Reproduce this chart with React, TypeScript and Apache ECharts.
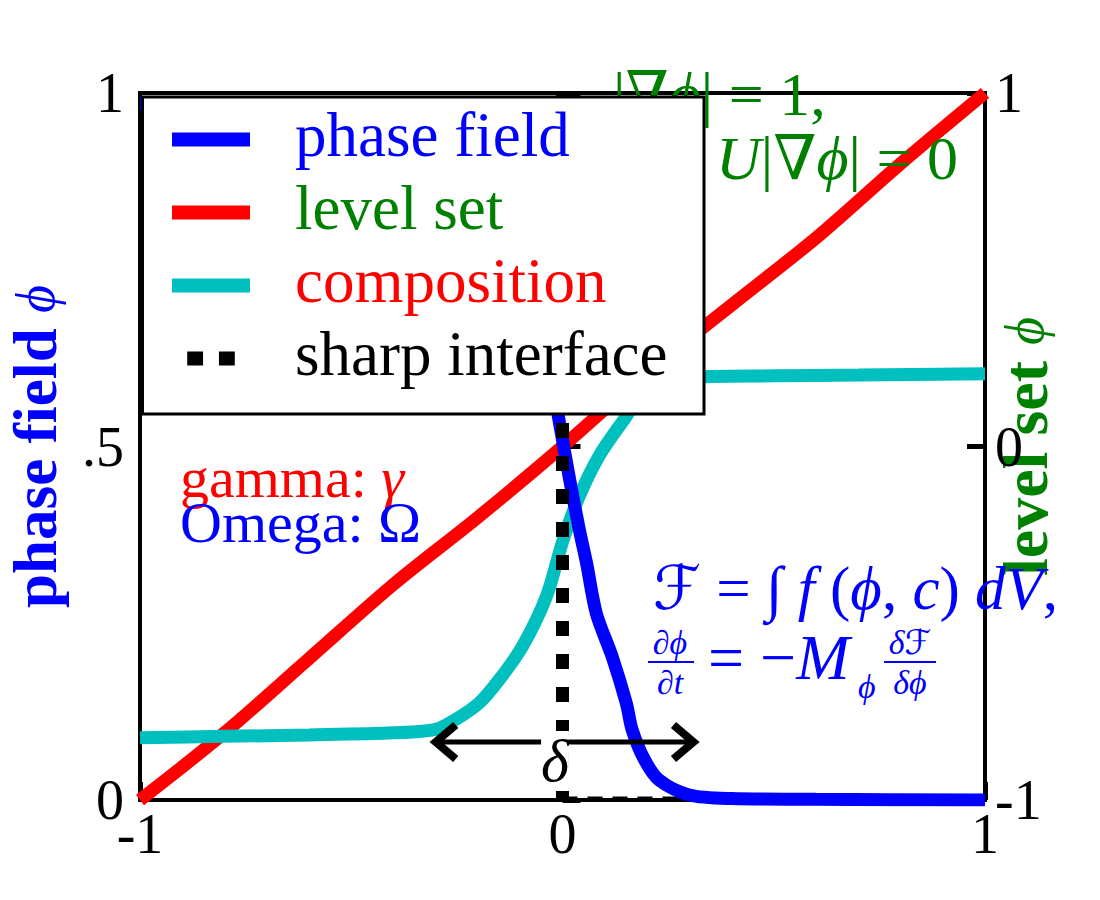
import React, { useEffect, useRef } from "react";
import * as echarts from "echarts";

// ---- data ----
const xTickValues = [-1, 0, 1];
const leftTickValues = [0, 0.5, 1];
const leftTickLabels = ["0", ".5", "1"];
const rightTickValues = [-1, 0, 1];

const phaseX = [-1, -0.5, -0.25, -0.15, -0.08, -0.04, -0.007, 0.017, 0.04, 0.057, 0.08, 0.118, 0.151, 0.165, 0.194, 0.229, 0.3, 0.4, 0.6, 1];
const phaseField = [0.985, 0.985, 0.98, 0.94, 0.8, 0.65, 0.533, 0.453, 0.382, 0.335, 0.264, 0.202, 0.137, 0.099, 0.057, 0.028, 0.007, 0.002, 0.001, 0.0];

const levelX = [-1, -0.8, -0.6, -0.4, -0.2, 0, 0.2, 0.4, 0.6, 0.8, 1];
const levelSet = [-1, -0.81, -0.6, -0.39, -0.2, 0, 0.21, 0.4, 0.59, 0.8, 1];

const compX = [-1, -0.8, -0.6, -0.4, -0.3, -0.25, -0.196, -0.15, -0.095, -0.038, 0, 0.04, 0.087, 0.142, 0.2, 0.3, 0.5, 0.7, 1];
const composition = [0.088, 0.09, 0.092, 0.095, 0.1, 0.115, 0.138, 0.17, 0.217, 0.288, 0.365, 0.43, 0.487, 0.535, 0.58, 0.598, 0.6, 0.601, 0.603];

const sharpX = [0, 0];
const sharpY = [1, 0];
const baselineX = [0, 1];
const baselineY = [0.003, 0.003];

const deltaStart = -0.3;
const deltaEnd = 0.31;
const deltaLevel = 0.082;

const legendNames = ["phase field", "level set", "composition", "sharp interface"];
const legendTextColors = ["#0000ff", "#008000", "#ff0000", "#000000"];
const legendIcons = ["rect", "rect", "rect", "path://M0,0H17V15H0Z M34,0H51V15H34Z"];

const SERIF = '"Liberation Serif", "DejaVu Serif", "DejaVu Sans", serif';

const zip = (xs: number[], ys: number[]) => xs.map((x, i) => [x, ys[i]]);

export default function App() {
  const ref = useRef<HTMLDivElement>(null);
  useEffect(() => {
    const chart = echarts.init(ref.current!, null, { renderer: "svg" });
    const rich: any = {};
    legendNames.forEach((n, i) => {
      rich["k" + i] = {
        color: legendTextColors[i],
        fontSize: 63,
        lineHeight: 59,
        fontFamily: SERIF,
        padding: [0, 0, 10, 40],
      };
    });
    const tickLabel = { fontSize: 56, fontFamily: SERIF, color: "#000" };
    const option: any = {
      animation: false,
      backgroundColor: "#fff",
      grid: {
        left: 140,
        right: 115,
        top: 93,
        bottom: 100,
        show: true,
        borderColor: "#000",
        borderWidth: 4,
        backgroundColor: "transparent",
        outerBoundsMode: "none",
        containLabel: false,
      },
      legend: {
        data: legendNames.map((n, i) => ({ name: n, icon: legendIcons[i] })),
        orient: "vertical",
        left: 172,
        top: 103,
        padding: 0,
        itemGap: 0,
        itemWidth: 78,
        itemHeight: 14,
        symbolKeepAspect: true,
        selectedMode: false,
        z: 20,
        textStyle: { fontSize: 63, lineHeight: 59, fontFamily: SERIF, rich },
        formatter: (name: string) => `{k${legendNames.indexOf(name)}|${name}}`,
      },
      xAxis: {
        type: "value",
        min: -1,
        max: 1,
        interval: 1,
        axisLine: { show: false },
        splitLine: { show: false },
        axisTick: { inside: true, length: 18, lineStyle: { width: 5, color: "#000" } },
        axisLabel: { ...tickLabel, margin: 6, formatter: (v: number) => (xTickValues.includes(v) ? String(v) : "") },
      },
      yAxis: [
        {
          type: "value",
          min: 0,
          max: 1,
          interval: 0.5,
          position: "left",
          axisLine: { show: false },
          splitLine: { show: false },
          axisTick: { inside: true, length: 18, lineStyle: { width: 5, color: "#000" } },
          axisLabel: { ...tickLabel, margin: 16, formatter: (v: number) => leftTickLabels[leftTickValues.indexOf(v)] ?? "" },
          name: "{b|phase field }{i|ϕ}",
          nameLocation: "middle",
          nameRotate: 90,
          nameGap: 74,
          nameMoveOverlap: false,
          nameTextStyle: {
            rich: {
              b: { fontSize: 61, fontWeight: "bold", color: "#0000ff", fontFamily: SERIF },
              i: { fontSize: 54, fontStyle: "italic", color: "#0000ff", fontFamily: SERIF },
            },
          },
        },
        {
          type: "value",
          min: -1,
          max: 1,
          interval: 1,
          position: "right",
          axisLine: { show: false },
          splitLine: { show: false },
          axisTick: { inside: true, length: 18, lineStyle: { width: 5, color: "#000" } },
          axisLabel: { ...tickLabel, margin: 10, formatter: (v: number) => (rightTickValues.includes(v) ? String(v) : "") },
          name: "{b|level set }{i|ϕ}",
          nameLocation: "middle",
          nameRotate: 90,
          nameGap: 8,
          nameMoveOverlap: false,
          nameTextStyle: {
            rich: {
              b: { fontSize: 64, fontWeight: "bold", color: "#008000", fontFamily: SERIF },
              i: { fontSize: 54, fontStyle: "italic", color: "#008000", fontFamily: SERIF },
            },
          },
        },
      ],
      series: [
        {
          name: "phase field",
          type: "line",
          data: zip(phaseX, phaseField),
          symbol: "none",
          smooth: 0.3,
          lineStyle: { color: "#0000ff", width: 13 },
          itemStyle: { color: "#0000ff" },
          z: 3,
        },
        {
          name: "level set",
          type: "line",
          yAxisIndex: 1,
          data: zip(levelX, levelSet),
          symbol: "none",
          smooth: 0.3,
          lineStyle: { color: "#ff0000", width: 13 },
          itemStyle: { color: "#ff0000" },
          z: 2,
        },
        {
          name: "composition",
          type: "line",
          data: zip(compX, composition),
          symbol: "none",
          smooth: 0.3,
          lineStyle: { color: "#00bfbf", width: 13 },
          itemStyle: { color: "#00bfbf" },
          z: 2,
        },
        {
          name: "sharp interface",
          type: "line",
          data: zip(sharpX, sharpY),
          symbol: "none",
          lineStyle: { color: "#000", width: 13, type: [15, 18], cap: "butt" },
          itemStyle: { color: "#000" },
          z: 4,
        },
        {
          name: "baseline",
          type: "line",
          data: zip(baselineX, baselineY),
          symbol: "none",
          lineStyle: { color: "#000", width: 3, type: [15, 10] },
          itemStyle: { color: "#000" },
          z: 2,
        },
      ],
    };
    chart.setOption(option);

    const px = (x: number, y: number) => chart.convertToPixel({ xAxisIndex: 0, yAxisIndex: 0 }, [x, y]) as number[];
    const a = px(deltaStart, deltaLevel);
    const b = px(deltaEnd, deltaLevel);
    const blue = "#0000ff";
    const green = "#008000";
    const it = (c: string, s: number) => ({ fill: c, fontSize: s, fontStyle: "italic", fontFamily: SERIF });
    const up = (c: string, s: number, lh?: number) => ({ fill: c, fontSize: s, fontFamily: SERIF, lineHeight: lh });
    const txt = (x: number, y: number, text: string, color: string, size: number, richMap: any = {}, align = "left") => ({
      type: "text",
      z: 6,
      style: {
        x,
        y,
        text,
        fill: color,
        fontSize: size,
        fontFamily: SERIF,
        textAlign: align,
        textVerticalAlign: "middle",
        rich: richMap,
      },
    });
    const graphics: any[] = [
      // legend box
      { type: "rect", z: 15, shape: { x: 142.5, y: 97, width: 561.5, height: 317 }, style: { fill: "#fff", stroke: "#000", lineWidth: 3 } },
      // delta arrow
      { type: "line", z: 5, shape: { x1: a[0], y1: a[1], x2: b[0], y2: b[1] }, style: { stroke: "#000", lineWidth: 5 } },
      { type: "polyline", z: 5, shape: { points: [[a[0] + 20, a[1] - 17], [a[0], a[1]], [a[0] + 20, a[1] + 17]] }, style: { stroke: "#000", lineWidth: 8, fill: null } },
      { type: "polyline", z: 5, shape: { points: [[b[0] - 20, b[1] - 17], [b[0], b[1]], [b[0] - 20, b[1] + 17]] }, style: { stroke: "#000", lineWidth: 8, fill: null } },
      {
        type: "text",
        z: 6,
        style: { x: 555, y: 761, text: "δ", fill: "#000", fontSize: 60, fontStyle: "italic", fontFamily: SERIF, textAlign: "center", textVerticalAlign: "middle", backgroundColor: "#fff" },
      },
      // gamma / Omega (two lines, one text block)
      {
        type: "text",
        z: 6,
        style: {
          x: 180,
          y: 500,
          text: "{r|gamma: }{g|γ}\n{o|Omega: Ω}",
          fontSize: 58,
          fontFamily: SERIF,
          textAlign: "left",
          textVerticalAlign: "middle",
          rich: {
            r: up("#ff0000", 58, 45),
            g: { ...it("#ff0000", 58), lineHeight: 45 },
            o: up(blue, 58, 45),
          },
        },
      },
      // green equations
      txt(613, 94, "|∇{i|ϕ}| = 1,", green, 62, { i: it(green, 62) }),
      txt(716, 158, "{i|U}|∇{i|ϕ}| = 0", green, 62, { i: it(green, 62) }),
      // blue equations
      txt(653, 588, "{i|ℱ} = ∫ {i|f} ({i|ϕ}, {i|c}) {i|dV},", blue, 61, { i: it(blue, 61) }),
      txt(670, 642, "{i|∂ϕ}", blue, 34, { i: it(blue, 34) }, "center"),
      { type: "line", z: 6, shape: { x1: 648, y1: 662, x2: 694, y2: 662 }, style: { stroke: blue, lineWidth: 2 } },
      txt(670, 682, "{i|∂t}", blue, 34, { i: it(blue, 34) }, "center"),
      txt(708, 657, "= −{i|M}", blue, 64, { i: it(blue, 64) }),
      txt(858, 686, "{i|ϕ}", blue, 34, { i: it(blue, 34) }),
      txt(910, 642, "{i|δℱ}", blue, 34, { i: it(blue, 34) }, "center"),
      { type: "line", z: 6, shape: { x1: 884, y1: 662, x2: 936, y2: 662 }, style: { stroke: blue, lineWidth: 2 } },
      txt(910, 682, "{i|δϕ}", blue, 34, { i: it(blue, 34) }, "center"),
    ];
    chart.setOption({ graphic: graphics });
    return () => chart.dispose();
  }, []);
  return <div ref={ref} style={{ position: "fixed", left: 0, top: 0, width: 1100, height: 900 }} />;
}
